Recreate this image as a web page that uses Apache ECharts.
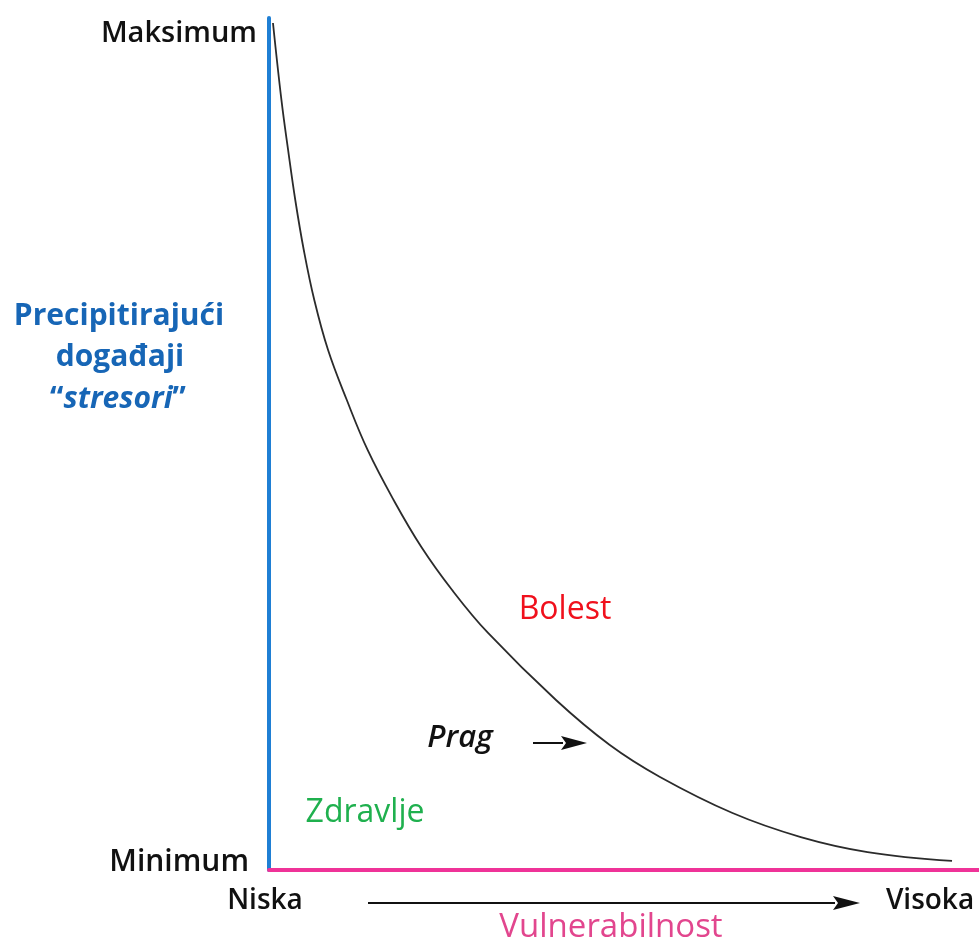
<!DOCTYPE html>
<html>
<head>
<meta charset="utf-8">
<script src="https://cdn.jsdelivr.net/npm/echarts@6/dist/echarts.min.js"></script>
<style>
html,body{margin:0;padding:0;background:#fff;}
#chart{width:979px;height:943px;}
</style>
</head>
<body>
<div id="chart"></div>
<script>
// Curve: vulnerability (x, 0-100) vs precipitating-event threshold (y, 0-100)
var vulnerability = [0.56, 1.75, 2.69, 3.70, 4.90, 6.38, 8.32, 10.96, 13.89, 17.55, 21.46, 25.79, 30.85, 40.42, 48.0, 55.07, 65.28, 74.90, 84.30, 96.20];
var stressors     = [99.41, 90.38, 84.51, 78.64, 72.77, 66.90, 61.03, 55.16, 49.30, 43.43, 37.91, 32.86, 27.82, 19.95, 14.67, 10.92, 6.69, 3.87, 2.11, 1.06];
var yTickLabels = ['Minimum', 'Maksimum'];
var yTickValues = [0.94, 98.4];
var xTickLabels = ['Niska', 'Visoka'];
var xTickValues = [0, 93.1];

var curveData = vulnerability.map(function (v, i) { return [v, stressors[i]]; });

var FONT = '"Open Sans", "Noto Sans", sans-serif';
var chart = echarts.init(document.getElementById('chart'), null, {renderer: 'canvas'});

function txt(text, x, y, size, color, weight, style, extra) {
  var s = {
    text: text, x: x, y: y,
    align: 'center', verticalAlign: 'middle',
    textAlign: 'center', textVerticalAlign: 'middle',
    fontFamily: 'Open Sans', fontSize: size, fontWeight: weight || 'normal',
    fontStyle: style || 'normal', fill: color
  };
  if (extra) for (var k in extra) s[k] = extra[k];
  return {type: 'text', z: 100, style: s};
}
function arrow(x1, x2, y, headLen, headH) {
  return [
    {type: 'line', z: 100, shape: {x1: x1, y1: y, x2: x2 - headLen + 2, y2: y}, style: {stroke: '#111', lineWidth: 2}},
    {type: 'polygon', z: 100, shape: {points: [[x2 - headLen, y - headH / 2], [x2, y], [x2 - headLen, y + headH / 2], [x2 - headLen + 5, y]]}, style: {fill: '#111'}}
  ];
}

var BLUE_TXT = '#1766b6';
var graphics = [
  txt('Precipitirajući', 119, 316, 30, BLUE_TXT, 700),
  txt('događaji', 120, 357, 30, BLUE_TXT, 700),
  txt('“{it|stresori}”', 118, 399, 30, BLUE_TXT, 700, 'normal', {rich: {it: {fontStyle: 'italic', fontFamily: 'Open Sans', fontSize: 30, fontWeight: 700, fill: BLUE_TXT}}}),
  txt('Bolest', 565, 610, 32, '#f0101c', 'normal'),
  txt('Prag', 460, 738, 31, '#111', 600, 'italic'),
  txt('Zdravlje', 365, 813, 32, '#1fb04e', 'normal'),
  txt('Vulnerabilnost', 611, 928, 33, '#e2468e', 'normal')
].concat(arrow(533, 587, 743, 26, 14)).concat(arrow(368, 860, 903, 27, 14));

chart.setOption({
  animation: false,
  backgroundColor: '#ffffff',
  grid: {left: 269, right: 0, top: 18, bottom: 73, containLabel: false},
  xAxis: {
    type: 'value', min: 0, max: 100,
    axisLine: {show: true, onZero: false, lineStyle: {color: '#ef3398', width: 4}},
    axisTick: {show: false},
    splitLine: {show: false},
    axisLabel: {
      customValues: xTickValues,
      margin: 31, verticalAlign: 'middle',
      formatter: function (v) { return v < 50 ? '{l|' + xTickLabels[0] + '}' : '{r|' + xTickLabels[1] + '}'; },
      rich: {
        l: {fontFamily: FONT, fontSize: 28, fontWeight: 600, color: '#111', padding: [0, 8, 0, 0]},
        r: {fontFamily: FONT, fontSize: 28, fontWeight: 600, color: '#111'}
      }
    }
  },
  yAxis: {
    type: 'value', min: 0, max: 100,
    axisLine: {show: true, onZero: false, lineStyle: {color: '#1f7fd4', width: 4}},
    axisTick: {show: false},
    splitLine: {show: false},
    axisLabel: {
      customValues: yTickValues,
      margin: 12,
      formatter: function (v) { return v < 50 ? '{mn|' + yTickLabels[0] + '}' : '{mx|' + yTickLabels[1] + '}'; },
      rich: {
        mn: {fontFamily: FONT, fontSize: 30, fontWeight: 600, color: '#111', padding: [0, 8, 0, 0]},
        mx: {fontFamily: FONT, fontSize: 29, fontWeight: 600, color: '#111', padding: [4, 0, 0, 0]}
      }
    }
  },
  series: [{
    type: 'line',
    data: curveData,
    smooth: 0.4,
    showSymbol: false,
    clip: false,
    lineStyle: {color: '#2b2b2b', width: 1.8}
  }],
  graphic: graphics
});
</script>
</body>
</html>
